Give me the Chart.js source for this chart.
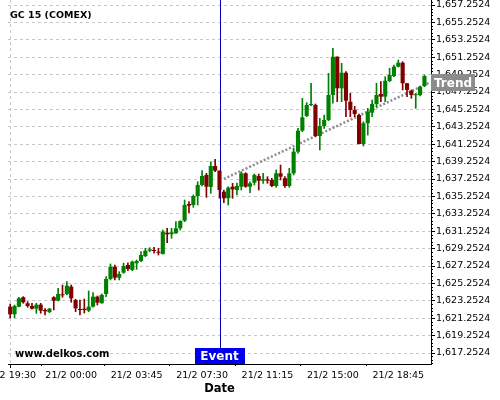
<!DOCTYPE html>
<html>
<head>
<meta charset="utf-8">
<title>GC 15 (COMEX)</title>
<script src="https://cdn.jsdelivr.net/npm/chart.js@4.4.1/dist/chart.umd.min.js"></script>
<style>
  html, body { margin: 0; padding: 0; background: #fff; }
  #wrap { width: 500px; height: 400px; }
</style>
</head>
<body>
<div id="wrap"><canvas id="chart" width="500" height="400"></canvas></div>
<script>
// 15 minute candles, 20/2 19:30 -> 21/2 20:15 (no bars 23:00-00:00)
const categories = [];
const hhmm = m => String(Math.floor(m / 60)).padStart(2, '0') + ':' + String(m % 60).padStart(2, '0');
for (let m = 19 * 60 + 30; m <= 22 * 60 + 45; m += 15) categories.push('20/2 ' + hhmm(m));
for (let m = 0; m <= 20 * 60 + 30; m += 15) categories.push('21/2 ' + hhmm(m));

const tickLabels = ['20/2 19:30', '21/2 00:00', '21/2 03:45', '21/2 07:30', '21/2 11:15', '21/2 15:00', '21/2 18:45'];

const open = [
  1622.58, 1621.70, 1622.58, 1623.66, 1622.97, 1622.66, 1622.35, 1622.81, 1622.20, 1621.97,
  1623.66, 1623.27, 1624.00, 1624.04, 1624.88, 1623.35, 1622.31, 1622.35, 1622.12, 1622.58,
  1623.73, 1622.97, 1624.04, 1625.76, 1627.17, 1625.91, 1626.49, 1627.37, 1626.80, 1627.57,
  1627.83, 1628.40, 1629.01, 1629.09, 1628.90, 1628.63, 1631.08, 1630.90, 1631.01, 1631.59,
  1632.46, 1634.38, 1634.27, 1635.30, 1636.57, 1637.72, 1636.34, 1638.75, 1638.21, 1635.80,
  1635.04, 1636.37, 1635.99, 1636.37, 1637.91, 1636.37, 1636.83, 1637.60, 1637.06, 1637.22,
  1637.14, 1636.45, 1637.91, 1637.34, 1636.45, 1637.91, 1640.39, 1642.81, 1644.50, 1645.76,
  1645.76, 1642.20, 1643.35, 1644.04, 1646.91, 1651.31, 1647.68, 1649.47, 1646.14, 1645.19,
  1644.61, 1641.28, 1643.66, 1644.88, 1645.88, 1647.03, 1646.72, 1648.52, 1649.09, 1650.16,
  1650.62, 1648.26, 1647.40, 1646.88, 1646.91, 1647.94
];
const high = [
  1622.89, 1622.77, 1623.66, 1623.73, 1623.15, 1622.97, 1622.97, 1622.97, 1622.35, 1622.39,
  1623.73, 1624.69, 1625.07, 1625.45, 1625.07, 1623.43, 1623.35, 1623.46, 1624.38, 1624.19,
  1623.81, 1624.04, 1626.03, 1627.49, 1627.37, 1626.60, 1627.57, 1627.63, 1627.83, 1627.94,
  1628.90, 1629.29, 1629.36, 1629.40, 1629.29, 1631.39, 1631.59, 1631.59, 1632.35, 1632.46,
  1634.84, 1634.65, 1635.42, 1636.94, 1638.21, 1637.91, 1639.24, 1639.52, 1638.21, 1635.99,
  1636.37, 1636.76, 1636.80, 1638.09, 1637.98, 1636.94, 1637.83, 1637.83, 1637.91, 1637.52,
  1637.34, 1638.29, 1638.86, 1637.52, 1638.49, 1640.78, 1643.08, 1646.53, 1646.03, 1648.26,
  1645.88, 1644.23, 1644.61, 1649.40, 1652.28, 1651.31, 1650.55, 1649.59, 1647.11, 1645.60,
  1644.73, 1643.84, 1645.38, 1646.34, 1648.26, 1648.44, 1649.01, 1649.98, 1650.36, 1650.93,
  1650.74, 1648.26, 1647.49, 1647.11, 1647.94, 1649.21
];
const low = [
  1621.28, 1621.31, 1622.54, 1622.97, 1622.51, 1622.28, 1621.82, 1621.82, 1621.62, 1621.89,
  1622.20, 1623.23, 1623.66, 1623.92, 1623.08, 1622.00, 1621.62, 1621.85, 1622.00, 1622.51,
  1622.77, 1622.97, 1623.73, 1625.65, 1625.65, 1625.65, 1626.42, 1626.72, 1626.72, 1626.88,
  1627.75, 1628.32, 1628.90, 1628.72, 1628.52, 1628.63, 1629.93, 1630.44, 1631.01, 1631.39,
  1632.35, 1633.38, 1634.00, 1634.27, 1636.45, 1635.15, 1635.61, 1638.09, 1635.04, 1634.53,
  1634.27, 1635.04, 1635.42, 1635.99, 1636.30, 1635.68, 1636.57, 1635.99, 1636.76, 1636.76,
  1636.37, 1636.30, 1637.14, 1636.30, 1636.30, 1637.72, 1640.21, 1642.69, 1644.42, 1645.68,
  1642.12, 1640.59, 1643.08, 1643.96, 1645.96, 1646.14, 1646.14, 1644.42, 1644.42, 1644.42,
  1641.28, 1641.05, 1642.31, 1644.42, 1645.57, 1646.14, 1646.14, 1648.44, 1649.01, 1650.13,
  1647.49, 1646.72, 1646.53, 1645.38, 1646.80, 1647.86
];
const close = [
  1621.70, 1622.66, 1623.54, 1623.08, 1622.66, 1622.35, 1622.81, 1622.12, 1622.05, 1622.35,
  1623.27, 1624.04, 1623.89, 1624.99, 1623.54, 1622.39, 1622.20, 1622.20, 1622.58, 1623.73,
  1623.04, 1623.92, 1625.76, 1627.17, 1625.91, 1626.34, 1627.26, 1626.91, 1627.75, 1627.83,
  1628.52, 1629.01, 1629.17, 1628.98, 1628.78, 1631.20, 1630.90, 1631.13, 1631.59, 1632.43,
  1634.27, 1634.19, 1635.30, 1636.57, 1637.60, 1636.37, 1638.75, 1638.21, 1635.99, 1635.04,
  1636.26, 1636.07, 1636.45, 1637.91, 1636.37, 1636.76, 1637.72, 1637.06, 1637.22, 1637.06,
  1636.45, 1637.91, 1637.52, 1636.45, 1637.91, 1640.39, 1642.81, 1644.35, 1645.76, 1645.84,
  1642.20, 1643.35, 1644.04, 1646.91, 1651.31, 1647.68, 1649.47, 1646.26, 1645.19, 1644.73,
  1641.28, 1643.66, 1644.99, 1645.88, 1646.91, 1646.72, 1648.55, 1649.21, 1650.16, 1650.62,
  1648.26, 1647.49, 1646.91, 1646.99, 1647.86, 1649.09
];

const eventTime = '21/2 08:30';
const trendPoints = [{ x: '21/2 08:45', y: 1637.26 }, { x: '21/2 20:30', y: 1648.29 }];

const yMin = 1615.99;
const yMax = 1657.83;
const yTickStart = 1617.2524;
const yTickStep = 2;

const UP = '#008000';
const DOWN = '#800000';
const GRID = '#c8c8c8';
const candleColor = i => (close[i] >= open[i] ? UP : DOWN);
const isTick = i => tickLabels.includes(categories[i]);
const fmt = v => v.toLocaleString('en-US', { minimumFractionDigits: 4, maximumFractionDigits: 4 });

const overlay = {
  id: 'overlay',
  beforeDatasetsDraw(chart) {
    const { ctx, chartArea, scales: { x } } = chart;
    const ex = Math.round(x.getPixelForValue(categories.indexOf(eventTime))) + 0.5;
    ctx.save();
    ctx.strokeStyle = '#0000b4';
    ctx.lineWidth = 1;
    ctx.beginPath();
    ctx.moveTo(ex, chartArea.top);
    ctx.lineTo(ex, chartArea.bottom);
    ctx.stroke();
    ctx.restore();
  },
  afterDraw(chart) {
    const { ctx, chartArea, scales: { x, y } } = chart;
    ctx.save();

    // minor ticks
    ctx.strokeStyle = '#000';
    ctx.lineWidth = 1;
    ctx.beginPath();
    for (let k = -5; k <= 110; k++) {
      const v = yTickStart + k * 0.4;
      if (v < yMin || v > yMax || k % 5 === 0) continue;
      const py = Math.round(y.getPixelForValue(v)) + 0.5;
      ctx.moveTo(chartArea.right, py);
      ctx.lineTo(chartArea.right + 2, py);
    }
    const idx = tickLabels.map(t => categories.indexOf(t));
    for (let j = 0; j < idx.length - 1; j++) {
      const px = Math.round(x.getPixelForValue((idx[j] + idx[j + 1]) / 2)) + 0.5;
      ctx.moveTo(px, chartArea.bottom);
      ctx.lineTo(px, chartArea.bottom + 2);
    }
    ctx.stroke();

    // texts
    ctx.fillStyle = '#000';
    ctx.textBaseline = 'middle';
    ctx.textAlign = 'left';
    ctx.font = 'bold 9.5px "DejaVu Sans"';
    ctx.fillText('GC 15 (COMEX)', 10, 15.5);
    ctx.font = 'bold 10px "DejaVu Sans"';
    ctx.fillText('www.delkos.com', 15, 354.5);

    // event label
    const ex = x.getPixelForValue(categories.indexOf(eventTime));
    ctx.fillStyle = '#0000ee';
    ctx.fillRect(Math.round(ex - 25), chartArea.bottom - 16, 50, 16);
    ctx.fillStyle = '#fff';
    ctx.font = 'bold 12px "DejaVu Sans"';
    ctx.textAlign = 'center';
    ctx.fillText('Event', ex, chartArea.bottom - 7.5);

    // trend label
    const ty = y.getPixelForValue(trendPoints[1].y);
    ctx.fillStyle = '#8c8c8c';
    ctx.fillRect(chartArea.right, Math.round(ty - 8.5), 44, 17);
    ctx.fillStyle = '#fff';
    ctx.textAlign = 'left';
    ctx.fillText('Trend', chartArea.right + 3, ty + 0.5);
    ctx.restore();
  }
};

Chart.defaults.font.family = '"DejaVu Sans"';
Chart.defaults.font.size = 9.5;
Chart.defaults.color = '#000';

new Chart(document.getElementById('chart'), {
  type: 'bar',
  data: {
    labels: categories,
    datasets: [
      {
        label: 'wick',
        data: low.map((l, i) => [l, high[i]]),
        backgroundColor: ctx => candleColor(ctx.dataIndex),
        barThickness: 1,
        grouped: false,
        borderWidth: 0
      },
      {
        label: 'body',
        data: open.map((o, i) => [o, close[i]]),
        backgroundColor: ctx => candleColor(ctx.dataIndex),
        barPercentage: 0.95,
        categoryPercentage: 1,
        minBarLength: 1,
        grouped: false,
        borderWidth: 0
      },
      {
        type: 'line',
        label: 'Trend',
        data: trendPoints,
        borderColor: '#8c8c8c',
        borderWidth: 2.5,
        borderDash: [2, 2],
        pointRadius: 0,
        fill: false
      }
    ]
  },
  options: {
    responsive: false,
    animation: false,
    layout: { padding: { left: 8, top: 0, right: 0, bottom: 0 } },
    plugins: {
      legend: { display: false },
      tooltip: { enabled: false }
    },
    scales: {
      x: {
        offset: true,
        grid: {
          offset: false,
          color: ctx => (isTick(ctx.index) ? GRID : 'rgba(0,0,0,0)'),
          tickColor: ctx => (isTick(ctx.index) ? '#000' : 'rgba(0,0,0,0)'),
          tickLength: 4
        },
        border: { display: true, color: '#000', width: 1, dash: [3, 3] },
        ticks: {
          autoSkip: false,
          maxRotation: 0,
          minRotation: 0,
          padding: 2,
          callback: (v, i) => (isTick(i) ? categories[i] : null)
        },
        title: {
          display: true,
          text: 'Date',
          font: { size: 11.5, weight: 'bold' },
          padding: { top: 0, bottom: 4 }
        },
        afterFit: s => { s.height = 36; s.paddingLeft = 0; s.paddingRight = 0; }
      },
      y: {
        position: 'right',
        min: yMin,
        max: yMax,
        grid: { color: GRID, tickColor: '#000', tickLength: 4 },
        border: { display: true, color: '#000', width: 1, dash: [3, 3] },
        ticks: { padding: 1, callback: v => fmt(v) },
        afterBuildTicks: s => {
          const t = [];
          for (let v = yTickStart; v <= yMax; v += yTickStep) t.push({ value: v });
          s.ticks = t;
        },
        afterFit: s => { s.width = 69; s.paddingTop = 0; s.paddingBottom = 0; }
      }
    }
  },
  plugins: [overlay]
});
</script>
</body>
</html>
